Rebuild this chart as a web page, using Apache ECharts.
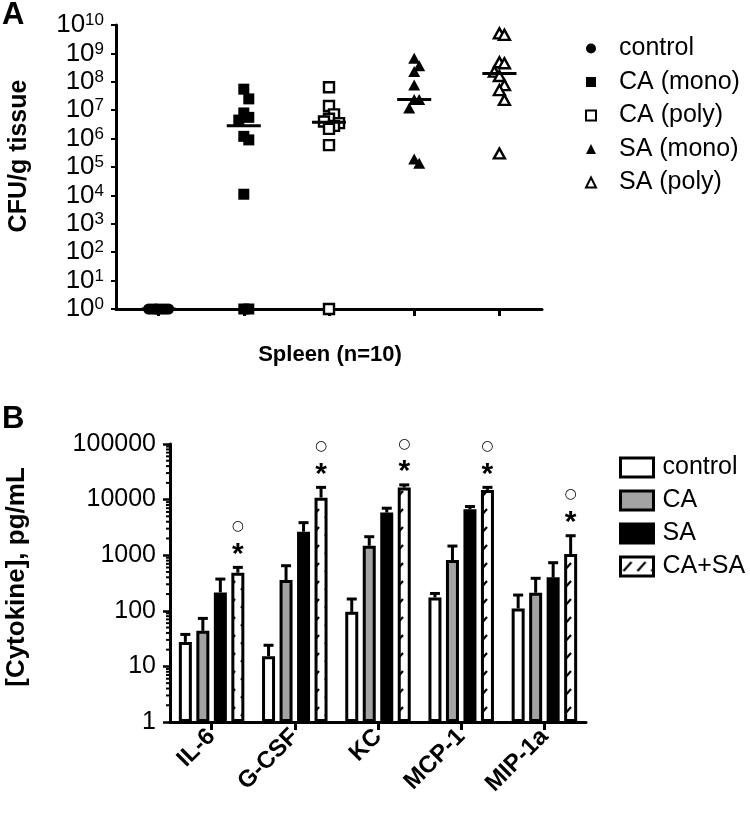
<!DOCTYPE html>
<html><head><meta charset="utf-8">
<script src="https://cdn.jsdelivr.net/npm/echarts@6/dist/echarts.min.js"></script>
<style>html,body{margin:0;padding:0;background:#fff}#c{width:750px;height:814px}</style>
</head><body><div id="c"></div><script>
// ---------- Panel A data (CFU/g tissue, spleen, n=10) ----------
const groupsA = ['control', 'CA (mono)', 'CA (poly)', 'SA (mono)', 'SA (poly)'];
const controlCFU = [1, 1, 1, 1, 1, 1, 1, 1, 1, 1];
const caMonoCFU  = [5.5e7, 2.5e7, 8e6, 5.6e6, 4.5e6, 1.2e6, 9e5, 1.1e4, 1, 1];
const caPolyCFU  = [6.4e7, 1.4e7, 7.1e6, 5e6, 4e6, 3.5e6, 2.8e6, 2.2e6, 5.9e5, 1];
const saMonoCFU  = [6.7e8, 3.7e8, 2.3e8, 7.7e7, 2.4e7, 2.4e7, 1.2e7, 1.9e5, 1.35e5];
const saPolyCFU  = [5.1e9, 4.5e9, 4.9e8, 4.5e8, 2.3e8, 1.6e8, 7.7e7, 5.1e7, 2.3e7, 3e5];
const groupValuesA = [controlCFU, caMonoCFU, caPolyCFU, saMonoCFU, saPolyCFU];

// ---------- Panel B data (cytokines, pg/mL) ----------
const cytokines  = ['IL-6', 'G-CSF', 'KC', 'MCP-1', 'MIP-1a'];
const treatments = ['control', 'CA', 'SA', 'CA+SA'];
const meanControl = [27.6, 15.3, 96, 174, 110];
const errControl  = [37.6, 24, 163, 205, 192];
const meanCA      = [43.6, 357, 1480, 820, 211];
const errCA       = [73, 647, 2150, 1460, 384];
const meanSA      = [214, 2650, 5860, 6700, 400];
const errSA       = [372, 3850, 7000, 7500, 733];
const meanCASA    = [484, 10850, 16500, 14950, 1050];
const errCASA     = [604, 16600, 18400, 16600, 2240];
const sigStar   = ['*', '*', '*', '*', '*'];
const sigCircle = ['○', '○', '○', '○', '○'];

const means = [meanControl, meanCA, meanSA, meanCASA];
const errs  = [errControl, errCA, errSA, errCASA];

const FONT = 'Liberation Sans';

// beeswarm-style horizontal spread (layout only)
function swarm(values, gi) {
  const step = 5, size = 10, pxDec = 28.4, pxUnit = 85.2;
  const cands = [0, 1, -1, 2, -2];
  const placed = [];
  return values.map((v, i) => {
    const y = Math.log10(v) * pxDec;
    let x = null;
    for (const k of cands) {
      const cx = k * step;
      if (!placed.some(p => Math.abs(p.x - cx) < step && Math.abs(p.y - y) < size)) { x = cx; break; }
    }
    if (x === null) x = [0.5, -0.5, 1.5, -1.5][i % 4] * step;
    placed.push({ x, y });
    return [gi + x / pxUnit, v];
  });
}
function median(arr) {
  const s = [...arr].sort((a, b) => a - b), n = s.length;
  return n % 2 ? s[(n - 1) / 2] : (s[n / 2 - 1] + s[n / 2]) / 2;
}

// hatch pattern for CA+SA
const pc = document.createElement('canvas');
pc.width = 14; pc.height = 18;
const g = pc.getContext('2d');
g.fillStyle = '#fff'; g.fillRect(0, 0, 14, 18);
g.strokeStyle = '#000'; g.lineWidth = 2.2;
g.beginPath(); g.moveTo(3, 14); g.lineTo(11, 5); g.stroke();
const hatch = { image: pc, repeat: 'repeat' };

const symA = [
  { symbol: 'circle', size: 11, style: { color: '#000' } },
  { symbol: 'rect', size: 11, style: { color: '#000' } },
  { symbol: 'rect', size: 10, style: { color: '#fff', borderColor: '#000', borderWidth: 2.4 } },
  { symbol: 'triangle', size: [12, 11], style: { color: '#000' } },
  { symbol: 'triangle', size: [11, 10], style: { color: '#fff', borderColor: '#000', borderWidth: 2.4 } }
];

const barFill = ['#fff', '#a3a3a3', '#000', hatch];
const BAR_W = 13, BAR_STEP = 17.5;

const series = [];
groupsA.forEach((name, gi) => {
  series.push({
    type: 'scatter', name, xAxisIndex: 1, yAxisIndex: 0,
    symbol: symA[gi].symbol, symbolSize: symA[gi].size,
    itemStyle: Object.assign({ opacity: 1 }, symA[gi].style),
    data: swarm(groupValuesA[gi], gi), z: 3, silent: true
  });
});
series.push({
  type: 'custom', xAxisIndex: 1, yAxisIndex: 0, z: 4, silent: true,
  data: groupValuesA.map((vals, gi) => [gi, median(vals)]),
  renderItem: (params, api) => {
    const c = api.coord([api.value(0), api.value(1)]);
    const half = api.size([0.2, 0])[0];
    return { type: 'line', shape: { x1: c[0] - half, y1: c[1], x2: c[0] + half, y2: c[1] },
      style: { stroke: '#000', lineWidth: 3 } };
  }
});
treatments.forEach((t, ti) => {
  series.push({
    type: 'bar', name: 'B:' + t, xAxisIndex: 2, yAxisIndex: 1,
    barWidth: BAR_W, barGap: ((BAR_STEP - BAR_W) / BAR_W * 100).toFixed(1) + '%',
    itemStyle: { color: barFill[ti], borderColor: '#000', borderWidth: 3 },
    data: means[ti], z: 3, silent: true
  });
});
// error bars
const errData = [];
treatments.forEach((t, ti) => cytokines.forEach((c, ci) => errData.push([ci, means[ti][ci], errs[ti][ci], ti])));
series.push({
  type: 'custom', xAxisIndex: 2, yAxisIndex: 1, z: 2, silent: true,
  encode: { x: 0, y: [1, 2] },
  data: errData,
  renderItem: (params, api) => {
    const off = (api.value(3) - 1.5) * BAR_STEP;
    const b = api.coord([api.value(0), api.value(1)]);
    const t = api.coord([api.value(0), api.value(2)]);
    const x = b[0] + off;
    return { type: 'group', children: [
      { type: 'line', shape: { x1: x, y1: b[1], x2: x, y2: t[1] }, style: { stroke: '#000', lineWidth: 3 } },
      { type: 'line', shape: { x1: x - 5, y1: t[1], x2: x + 5, y2: t[1] }, style: { stroke: '#000', lineWidth: 3 } }
    ] };
  }
});
// significance marks
series.push({
  type: 'custom', xAxisIndex: 2, yAxisIndex: 1, z: 5, silent: true,
  data: cytokines.map((c, i) => [i, errCASA[i]]),
  renderItem: (params, api) => {
    const p = api.coord([api.value(0), api.value(1)]);
    const x = p[0] + 1.5 * BAR_STEP;
    const i = params.dataIndex;
    return { type: 'group', children: [
      { type: 'text', style: { text: sigStar[i], x: x, y: p[1] - 13, align: 'center', verticalAlign: 'middle',
        font: 'bold 30px "Liberation Sans"', fill: '#000' } },
      { type: 'text', style: { text: sigCircle[i], x: x, y: p[1] - 41, align: 'center', verticalAlign: 'middle',
        font: 'bold 14px "DejaVu Sans"', fill: '#000' } }
    ] };
  }
});
// minor ticks for panel B log axis
const minorB = [];
for (let k = 0; k < 5; k++) for (let m = 2; m <= 9; m++) minorB.push([0, m * Math.pow(10, k)]);
series.push({
  type: 'custom', xAxisIndex: 2, yAxisIndex: 1, z: 5, silent: true, clip: false,
  data: minorB,
  renderItem: (params, api) => {
    const p = api.coord([0, api.value(1)]);
    const x0 = params.coordSys.x;
    return { type: 'line', shape: { x1: x0 - 4, y1: p[1], x2: x0, y2: p[1] }, style: { stroke: '#000', lineWidth: 2 } };
  }
});

const axisLineStyle = { show: true, onZero: false, lineStyle: { color: '#000', width: 3 } };

const option = {
  animation: false,
  backgroundColor: '#fff',
  textStyle: { fontFamily: FONT, color: '#000' },
  grid: [
    { left: 116, top: 25, width: 426, height: 284 },
    { left: 170, top: 444, width: 416, height: 278 }
  ],
  xAxis: [
    { gridIndex: 0, type: 'category', data: groupsA, axisLine: axisLineStyle,
      axisTick: { show: true, alignWithLabel: true, length: 7, lineStyle: { color: '#000', width: 3 } },
      axisLabel: { show: false }, splitLine: { show: false } },
    { gridIndex: 0, type: 'value', min: -0.5, max: 4.5, show: false },
    { gridIndex: 1, type: 'category', data: cytokines, axisLine: axisLineStyle,
      axisTick: { show: true, alignWithLabel: true, length: 8, lineStyle: { color: '#000', width: 3 } },
      axisLabel: { rotate: 45, fontSize: 24, fontWeight: 'bold', color: '#000', fontFamily: FONT, margin: 11, interval: 0 } }
  ],
  yAxis: [
    { gridIndex: 0, type: 'log', logBase: 10, min: 1, max: 1e10, interval: 1,
      axisLine: axisLineStyle, splitLine: { show: false },
      axisTick: { show: true, length: 5, lineStyle: { color: '#000', width: 2 } },
      axisLabel: { margin: 12, formatter: v => '{b|10}{s|' + Math.round(Math.log10(v)) + '}',
        rich: { b: { fontSize: 26, lineHeight: 26, color: '#000', fontFamily: FONT },
                s: { fontSize: 17, lineHeight: 12, verticalAlign: 'top', color: '#000', fontFamily: FONT } } } },
    { gridIndex: 1, type: 'log', logBase: 10, min: 1, max: 1e5, interval: 1,
      axisLine: axisLineStyle, splitLine: { show: false },
      axisTick: { show: true, length: 7, lineStyle: { color: '#000', width: 2.5 } },
      axisLabel: { margin: 14, fontSize: 25, color: '#000', fontFamily: FONT, formatter: v => String(Math.round(v)) } }
  ],
  legend: [
    { data: groupsA, orient: 'vertical', left: 580, top: 31, itemWidth: 10, itemHeight: 10, itemGap: 8.5,
      selectedMode: false,
      textStyle: { fontSize: 25, lineHeight: 24, color: '#000', fontFamily: FONT, padding: [0, 0, 0, 18] } },
    { data: treatments.map(t => 'B:' + t), orient: 'vertical', left: 614, top: 450, itemWidth: 33, itemHeight: 19, itemGap: 8,
      icon: 'rect', selectedMode: false, formatter: n => n.slice(2),
      itemStyle: { borderColor: '#000', borderWidth: 3 },
      textStyle: { fontSize: 25, lineHeight: 24, color: '#000', fontFamily: FONT, padding: [0, 0, 0, 4] } }
  ],
  graphic: [
    { type: 'text', left: 2, top: 0, style: { text: 'A', font: 'bold 31px "Liberation Sans"', fill: '#000' } },
    { type: 'text', left: 2, top: 404, style: { text: 'B', font: 'bold 31px "Liberation Sans"', fill: '#000' } },
    { type: 'text', x: 19, y: 156, rotation: Math.PI / 2,
      style: { text: 'CFU/g tissue', align: 'center', verticalAlign: 'middle', font: 'bold 25px "Liberation Sans"', fill: '#000' } },
    { type: 'text', x: 330, y: 355,
      style: { text: 'Spleen (n=10)', align: 'center', verticalAlign: 'middle', font: 'bold 22px "Liberation Sans"', fill: '#000' } },
    { type: 'text', x: 17, y: 577, rotation: Math.PI / 2,
      style: { text: '[Cytokine], pg/mL', align: 'center', verticalAlign: 'middle', font: 'bold 26px "Liberation Sans"', fill: '#000' } }
  ],
  series
};
const chart = echarts.init(document.getElementById('c'), null, { renderer: 'canvas' });
chart.setOption(option);
</script></body></html>
